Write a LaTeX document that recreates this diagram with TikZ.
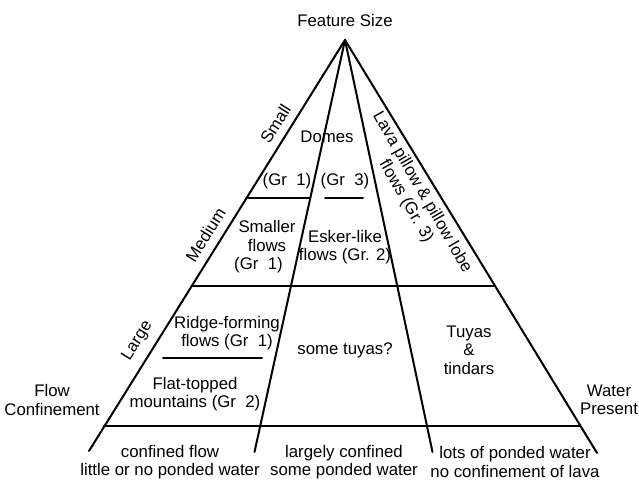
\documentclass[tikz,border=0pt]{standalone}
\usepackage{fontspec}
\setmainfont{Liberation Sans}
\begin{document}
\begin{tikzpicture}[x=1pt,y=-1pt,
  edge/.style={line width=2pt,line cap=round},
  lbl/.style={font=\fontsize{16.8}{18.5}\selectfont,align=center,inner sep=0pt}]
\useasboundingbox (0,0) rectangle (639,482);
% apex and line ends
\coordinate (A) at (345,40);
\coordinate (LB) at (89,451);
\coordinate (RB) at (597,453);
\coordinate (LI) at (254.5,452);
\coordinate (RI) at (432.5,452);
% horizontal line ends
\coordinate (h1a) at (246.3,198);
\coordinate (h1b) at (310.2,198);
\coordinate (h1c) at (325,198);
\coordinate (h1d) at (363,198);
\coordinate (h2a) at (191.3,286);
\coordinate (h2b) at (494.8,286);
\coordinate (h3a) at (103.8,426);
\coordinate (h3b) at (580.1,426);
\coordinate (h4a) at (163,358);
\coordinate (h4b) at (262,358);
% lines
\draw[edge] (A) -- (LB);
\draw[edge] (A) -- (RB);
\draw[edge] (A) -- (LI);
\draw[edge] (A) -- (RI);
\draw[edge] (h1a) -- (h1b);
\draw[edge] (h1c) -- (h1d);
\draw[edge] (h2a) -- (h2b);
\draw[edge] (h3a) -- (h3b);
\draw[edge] (h4a) -- (h4b);
% labels
\node[lbl] (fs) at (345,20) {Feature Size};
\node[lbl,rotate=58] (small) at (275.5,124) {Small};
\node[lbl,rotate=58] (medium) at (205.5,235) {Medium};
\node[lbl,rotate=58] (large) at (137.5,341) {Large};
\node[lbl,rotate=-60] (lava) at (414,197) {Lava pillow \& pillow lobe\\flows (Gr. 3)};
\node[lbl] (domes) at (327,137) {Domes};
\node[lbl] (g1) at (287,181) {(Gr\ \ 1)};
\node[lbl] (g3) at (345,181) {(Gr\ \ 3)};
\node[lbl] (smaller) at (267,247) {Smaller\\flows\\(Gr\ \ 1)\hspace*{17pt}};
\node[lbl] (esker) at (345,247) {Esker-like\\flows (Gr. 2)};
\node[lbl] (ridge) at (227,333) {Ridge-forming\\flows (Gr\ \ 1)};
\node[lbl] (flat) at (195,394) {Flat-topped\\mountains (Gr\ \ 2)};
\node[lbl] (tuyq) at (345,350) {some tuyas?};
\node[lbl] (tuyas) at (469,350) {Tuyas\\\&\\tindars};
\node[lbl] (flow) at (52,400) {Flow\\Confinement};
\node[lbl] (water) at (609,400) {Water\\Present};
\node[lbl] (b1) at (170,462) {confined flow\\little or no ponded water};
\node[lbl] (b2) at (344,462) {largely confined\\some ponded water};
\node[lbl] (b3) at (515,462) {lots of ponded water\\no confinement of lava};
\end{tikzpicture}
\end{document}
